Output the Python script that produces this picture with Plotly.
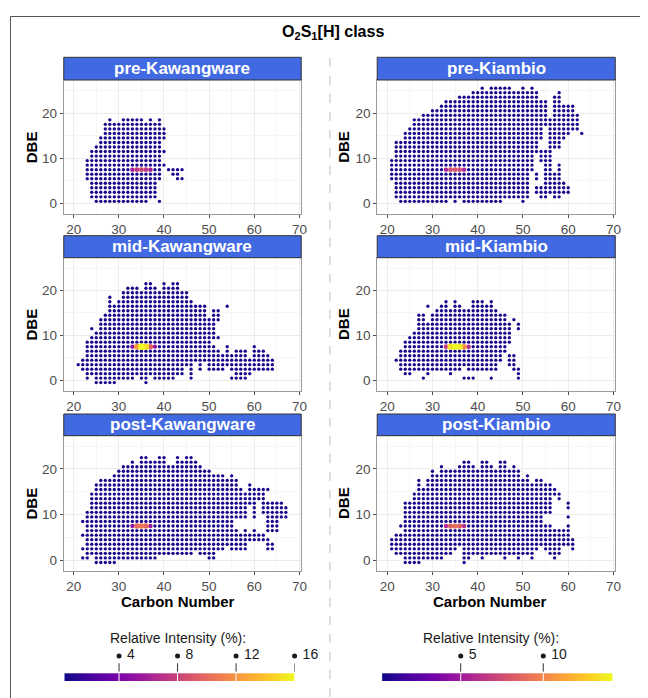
import numpy as np
import plotly.graph_objects as go

# page body has an 8px margin, so the figure is 8px smaller on each axis
PAGE_OFF = 8
FW, FH = 640, 690
FONT = "Liberation Sans, Arial, sans-serif"

# ---------------- data ----------------
panel_titles = ["pre-Kawangware", "pre-Kiambio", "mid-Kawangware",
                "mid-Kiambio", "post-Kawangware", "post-Kiambio"]

x_ticks = [20, 30, 40, 50, 60, 70]
y_ticks = [0, 10, 20]
left_bar_ticks = [4, 8, 12, 16]
right_bar_ticks = [5, 10]
left_limits = [0.27, 16.0]
right_limits = [0.24, 14.2]

# each entry: (carbon number, lowest DBE, highest DBE) of a run of points
pre_kaw_cols = [
    (23, 5.5, 9.5), (24, 1.5, 11.5), (25, 0.5, 12.5), (26, 0.5, 14.5),
    (27, 0.5, 17.5), (28, 0.5, 18.5), (29, 0.5, 17.5), (30, 0.5, 17.5),
    (31, 0.5, 18.5), (32, 0.5, 18.5), (33, 0.5, 18.5), (34, 0.5, 18.5),
    (35, 0.5, 18.5), (36, 0.5, 17.5), (37, 1.5, 18.5), (38, 1.5, 17.5),
    (39, 5.5, 18.5), (39, 0.5, 0.5), (40, 8.5, 8.5), (40, 11.5, 11.5),
    (40, 14.5, 16.5), (41, 7.5, 7.5), (42, 6.5, 7.5), (43, 5.5, 7.5),
    (44, 5.5, 5.5), (44, 7.5, 7.5),
]
pre_kia_cols = [
    (21, 5.5, 9.5), (22, 1.5, 13.5), (23, 0.5, 13.5), (24, 0.5, 15.5),
    (25, 0.5, 16.5), (26, 0.5, 18.5), (27, 0.5, 18.5), (28, 0.5, 19.5),
    (29, 0.5, 19.5), (30, 0.5, 20.5), (31, 0.5, 20.5), (32, 0.5, 21.5),
    (33, 0.5, 22.5), (34, 1.5, 22.5), (35, 0.5, 22.5), (36, 1.5, 23.5),
    (37, 0.5, 23.5), (38, 0.5, 23.5), (39, 0.5, 24.5), (40, 0.5, 24.5),
    (41, 0.5, 25.5), (42, 0.5, 24.5), (43, 0.5, 25.5), (44, 0.5, 25.5),
    (45, 0.5, 25.5), (46, 1.5, 25.5), (47, 1.5, 25.5), (48, 1.5, 24.5),
    (49, 1.5, 24.5), (50, 0.5, 25.5), (51, 1.5, 24.5), (52, 7.5, 25.5),
    (53, 11.5, 24.5), (53, 5.5, 6.5), (53, 2.5, 3.5),
    (54, 14.5, 22.5), (54, 9.5, 11.5), (54, 1.5, 3.5),
    (55, 17.5, 22.5), (55, 1.5, 11.5), (56, 2.5, 18.5),
    (57, 12.5, 23.5), (57, 1.5, 6.5), (58, 12.5, 24.5), (58, 1.5, 8.5),
    (59, 14.5, 21.5), (59, 2.5, 4.5), (60, 15.5, 21.5), (60, 2.5, 3.5),
    (61, 16.5, 21.5), (62, 16.5, 19.5), (63, 15.5, 15.5),
]
mid_kaw_cols = [
    (21, 3.5, 3.5), (22, 2.5, 4.5), (23, 0.5, 8.5), (24, 1.5, 9.5),
    (24, 11.5, 11.5), (25, -0.5, 10.5), (26, -0.5, 13.5), (27, -0.5, 14.5),
    (28, -0.5, 18.5), (29, -0.5, 16.5), (30, 0.5, 17.5), (31, 0.5, 19.5),
    (32, 0.5, 20.5), (33, 0.5, 20.5), (34, 1.5, 20.5), (35, 0.5, 19.5),
    (36, 0.5, 21.5), (36, -0.5, -0.5), (37, 1.5, 21.5), (38, 0.5, 20.5),
    (39, 0.5, 19.5), (40, 0.5, 21.5), (41, 0.5, 20.5), (42, 0.5, 21.5),
    (43, 1.5, 21.5), (44, 1.5, 19.5), (45, 3.5, 19.5), (46, 0.5, 17.5),
    (47, 4.5, 16.5), (48, 2.5, 16.5), (49, 4.5, 16.5), (50, 2.5, 13.5),
    (51, 9.5, 15.5), (51, 2.5, 7.5), (52, 13.5, 15.5), (52, 9.5, 9.5),
    (52, 2.5, 6.5), (53, 2.5, 5.5), (54, 16.5, 16.5), (54, 3.5, 7.5),
    (55, 0.5, 0.5), (55, 2.5, 5.5), (56, 0.5, 6.5), (57, 0.5, 6.5),
    (58, 0.5, 6.5), (59, 1.5, 4.5), (60, 2.5, 7.5), (61, 2.5, 6.5),
    (62, 2.5, 6.5), (63, 2.5, 5.5), (64, 2.5, 4.5),
]
mid_kia_cols = [
    (22, 4.5, 4.5), (23, 2.5, 6.5), (24, 1.5, 8.5), (25, 1.5, 9.5),
    (26, 2.5, 10.5), (27, 2.5, 14.5), (28, 2.5, 14.5), (28, 0.5, 0.5),
    (29, 1.5, 12.5), (29, 16.5, 16.5), (30, 2.5, 14.5), (31, 2.5, 15.5),
    (32, 2.5, 16.5), (33, 2.5, 17.5), (34, 1.5, 15.5), (35, 2.5, 17.5),
    (36, 2.5, 16.5), (37, 3.5, 15.5), (37, 0.5, 0.5), (38, 2.5, 15.5),
    (38, 0.5, 0.5), (39, 2.5, 17.5), (39, 0.5, 0.5), (40, 2.5, 17.5),
    (41, 2.5, 17.5), (42, 2.5, 16.5), (43, 2.5, 17.5), (43, 0.5, 0.5),
    (44, 2.5, 15.5), (45, 4.5, 14.5), (46, 6.5, 14.5), (47, 3.5, 5.5),
    (47, 8.5, 12.5), (48, 2.5, 5.5), (48, 13.5, 13.5), (49, 0.5, 2.5),
    (49, 11.5, 12.5),
]
post_kaw_cols = [
    (22, 8.5, 8.5), (22, 5.5, 5.5), (22, 2.5, 2.5), (22, 0.5, 0.5),
    (23, 0.5, 10.5), (24, 1.5, 14.5), (25, -0.5, 16.5), (26, -0.5, 17.5),
    (27, -0.5, 17.5), (28, -0.5, 17.5), (29, -0.5, 18.5), (30, 0.5, 19.5),
    (31, 0.5, 20.5), (32, 0.5, 20.5), (33, 0.5, 21.5), (34, 0.5, 20.5),
    (35, 0.5, 22.5), (36, 0.5, 22.5), (37, 0.5, 21.5), (38, 0.5, 21.5),
    (39, 1.5, 22.5), (40, 1.5, 22.5), (41, 1.5, 20.5), (42, 1.5, 20.5),
    (43, 1.5, 22.5), (44, 1.5, 21.5), (45, 1.5, 22.5), (46, 1.5, 22.5),
    (47, 2.5, 21.5), (48, 1.5, 20.5), (49, 1.5, 19.5), (50, 0.5, 19.5),
    (51, 0.5, 18.5), (52, 2.5, 18.5), (53, 2.5, 18.5), (54, 3.5, 17.5),
    (55, 2.5, 18.5), (56, 9.5, 17.5), (56, 2.5, 6.5), (57, 9.5, 15.5),
    (57, 2.5, 5.5), (58, 9.5, 14.5), (58, 2.5, 6.5), (59, 12.5, 16.5),
    (59, 4.5, 5.5), (60, 9.5, 15.5), (60, 4.5, 6.5), (61, 13.5, 15.5),
    (61, 4.5, 5.5), (62, 10.5, 15.5), (62, 4.5, 5.5), (63, 15.5, 15.5),
    (63, 6.5, 12.5), (63, 2.5, 4.5), (64, 6.5, 12.5), (64, 2.5, 3.5),
    (65, 6.5, 12.5), (66, 9.5, 12.5), (67, 9.5, 11.5),
]
post_kia_cols = [
    (21, 2.5, 4.5), (22, 1.5, 5.5), (23, 1.5, 5.5), (23, 7.5, 7.5),
    (24, -0.5, 12.5), (25, -0.5, 12.5), (26, -0.5, 14.5), (27, -0.5, 17.5),
    (28, 0.5, 15.5), (29, 0.5, 17.5), (30, 0.5, 19.5), (31, 0.5, 18.5),
    (32, 0.5, 20.5), (33, 1.5, 19.5), (34, 1.5, 19.5), (35, 2.5, 19.5),
    (36, 3.5, 20.5), (37, -0.5, 21.5), (38, 0.5, 21.5), (39, 1.5, 20.5),
    (40, 1.5, 19.5), (41, 0.5, 21.5), (42, 1.5, 21.5), (43, 1.5, 20.5),
    (44, 1.5, 19.5), (45, 1.5, 21.5), (46, 0.5, 21.5), (47, 1.5, 19.5),
    (48, 1.5, 20.5), (49, 0.5, 19.5), (50, 1.5, 17.5), (51, 1.5, 18.5),
    (52, 0.5, 16.5), (53, 2.5, 17.5), (54, 3.5, 17.5), (55, 10.5, 16.5),
    (55, 2.5, 7.5), (56, 10.5, 16.5), (56, 1.5, 7.5), (57, 14.5, 15.5),
    (57, 0.5, 6.5), (58, 13.5, 14.5), (58, 1.5, 6.5), (59, 3.5, 6.5),
    (60, 11.5, 12.5), (60, 9.5, 9.5), (60, 3.5, 7.5), (61, 2.5, 4.5),
]

# background relative intensity of the ordinary points (%)
base_intensity = [0.6, 0.55, 0.6, 0.55, 0.6, 0.55]

# the bright DBE = 7.5 row in each panel
highlight_dbe = 7.5
pre_kaw_hl_c = [33, 34, 35, 36, 37]
pre_kaw_hl_v = [6.0, 7.5, 8.0, 7.5, 6.0]
pre_kia_hl_c = [33, 34, 35, 36, 37]
pre_kia_hl_v = [5.5, 7.5, 8.0, 7.5, 5.5]
mid_kaw_hl_c = [33, 34, 35, 36, 37, 38]
mid_kaw_hl_v = [5.0, 12.0, 16.0, 15.0, 9.5, 5.0]
mid_kia_hl_c = [33, 34, 35, 36, 37, 38]
mid_kia_hl_v = [6.5, 13.5, 14.2, 14.0, 10.5, 6.0]
post_kaw_hl_c = [33, 34, 35, 36, 37]
post_kaw_hl_v = [5.0, 10.0, 10.5, 10.0, 5.5]
post_kia_hl_c = [33, 34, 35, 36, 37]
post_kia_hl_v = [6.0, 8.5, 9.0, 8.5, 6.0]

panel_cols = [pre_kaw_cols, pre_kia_cols, mid_kaw_cols, mid_kia_cols, post_kaw_cols, post_kia_cols]
panel_hl = [(pre_kaw_hl_c, pre_kaw_hl_v), (pre_kia_hl_c, pre_kia_hl_v),
            (mid_kaw_hl_c, mid_kaw_hl_v), (mid_kia_hl_c, mid_kia_hl_v),
            (post_kaw_hl_c, post_kaw_hl_v), (post_kia_hl_c, post_kia_hl_v)]

# ---------------- layout geometry (window pixels) ----------------
col_x = [(64.3, 304.0), (380.7, 621.0)]
row_y = [(80.0, 214.0), (257.7, 390.7), (435.7, 570.7)]
strip_y = [(57.3, 80.0), (235.7, 257.7), (414.0, 435.7)]
x_range = [17.8, 70.4]
y_range = [-2.3, 27.3]


def px(x):
    return (x - PAGE_OFF) / FW


def py(y):
    return 1 - (y - PAGE_OFF) / FH


def expand(cols, hl_c, hl_v, base):
    pts = {}
    for c, lo, hi in cols:
        for d in np.arange(lo, hi + 0.01, 1.0):
            pts[(c, round(float(d), 1))] = base
    for c, v in zip(hl_c, hl_v):
        pts[(c, highlight_dbe)] = v
    items = sorted(pts.items(), key=lambda kv: kv[1])
    xs = np.array([k[0] for k, _ in items])
    ys = np.array([k[1] for k, _ in items])
    vs = np.array([v for _, v in items])
    return xs, ys, vs


fig = go.Figure()
layout = {}
shapes = []
annotations = []

for k in range(6):
    r, c = divmod(k, 2)
    lims = left_limits if c == 0 else right_limits
    xs, ys, vs = expand(panel_cols[k], panel_hl[k][0], panel_hl[k][1], base_intensity[k])
    fig.add_trace(go.Scatter(
        x=xs, y=ys, mode="markers",
        marker=dict(color=vs, colorscale="Plasma", cmin=lims[0], cmax=lims[1],
                    size=3.2 + 0.22 * vs, line=dict(width=0), opacity=1),
        xaxis=f"x{k + 1}", yaxis=f"y{k + 1}", showlegend=False, hoverinfo="skip",
    ))
    xname = "xaxis" if k == 0 else f"xaxis{k + 1}"
    yname = "yaxis" if k == 0 else f"yaxis{k + 1}"
    x0, x1 = col_x[c]
    y0, y1 = row_y[r]
    axis_common = dict(
        showline=True, mirror=True, linecolor="#9a9a9a", linewidth=1,
        ticks="outside", ticklen=3, tickcolor="#4d4d4d", tickwidth=1,
        tickfont=dict(family=FONT, size=13.5, color="#4d4d4d"),
        showgrid=True, gridcolor="#ececec", gridwidth=0.6, zeroline=False,
        fixedrange=True,
    )
    layout[xname] = dict(axis_common, domain=[px(x0), px(x1)], range=x_range,
                         tickvals=x_ticks, anchor=f"y{k + 1}",
                         minor=dict(showgrid=True, gridcolor="#f6f6f6", gridwidth=0.5,
                                    dtick=5, tick0=15))
    layout[yname] = dict(axis_common, domain=[py(y1), py(y0)], range=y_range,
                         tickvals=y_ticks, anchor=f"x{k + 1}",
                         minor=dict(showgrid=True, gridcolor="#f6f6f6", gridwidth=0.5,
                                    dtick=5, tick0=5))

    # strip
    sy0, sy1 = strip_y[r]
    shapes.append(dict(type="rect", xref="paper", yref="paper",
                       x0=px(x0), x1=px(x1), y0=py(sy1), y1=py(sy0),
                       fillcolor="#4169E1", line=dict(color="#333333", width=1), layer="above"))
    annotations.append(dict(text=f"<b>{panel_titles[k]}</b>", xref="paper", yref="paper",
                            x=px((x0 + x1) / 2), y=py((sy0 + sy1) / 2),
                            showarrow=False, xanchor="center", yanchor="middle",
                            font=dict(family=FONT, size=17, color="white")))
    # DBE title
    dbe_x = 31.5 if c == 0 else 346.0
    annotations.append(dict(text="<b>DBE</b>", xref="paper", yref="paper",
                            x=px(dbe_x), y=py((y0 + y1) / 2), textangle=-90,
                            showarrow=False, xanchor="center", yanchor="middle",
                            font=dict(family=FONT, size=15, color="black")))
    if r == 2:
        cx = 180.0 if c == 0 else 495.0
        annotations.append(dict(text="<b>Carbon Number</b>", xref="paper", yref="paper",
                                x=px(cx), y=py(601.7), showarrow=False,
                                xanchor="center", yanchor="middle",
                                font=dict(family=FONT, size=15, color="black")))

# ---------------- colour bars ----------------
bar_geom = [(65.0, 297.3), (385.7, 618.3)]
bar_bottom, bar_px = 681.0, 7.7
bar_title_x = [180.0, 496.0]
for j, (lims, ticks) in enumerate([(left_limits, left_bar_ticks), (right_limits, right_bar_ticks)]):
    ax = 7 + j
    bx0, bx1 = bar_geom[j]
    grad = np.linspace(lims[0], lims[1], 300)
    fig.add_trace(go.Heatmap(x=grad, y0=0.5, dy=1, z=[grad], colorscale="Plasma",
                             zmin=lims[0], zmax=lims[1], showscale=False,
                             xaxis=f"x{ax}", yaxis=f"y{ax}", hoverinfo="skip"))
    wx, wy, dx, dy = [], [], [], []
    for t in ticks:
        wx += [t, t, None]
        wy += [0, 1, None]
        dx += [t, t, None]
        dy += [1.22, 2.3, None]
    fig.add_trace(go.Scatter(x=wx, y=wy, mode="lines", line=dict(color="white", width=1),
                             xaxis=f"x{ax}", yaxis=f"y{ax}", showlegend=False, hoverinfo="skip"))
    fig.add_trace(go.Scatter(x=dx, y=dy, mode="lines", line=dict(color="#333333", width=1),
                             xaxis=f"x{ax}", yaxis=f"y{ax}", showlegend=False, hoverinfo="skip"))
    fig.add_trace(go.Scatter(x=ticks, y=[3.25] * len(ticks), mode="markers+text",
                             text=[f" {t}" for t in ticks], textposition="middle right",
                             textfont=dict(family=FONT, size=14, color="#1a1a1a"),
                             marker=dict(size=5, color="#1a1a1a"), cliponaxis=False,
                             xaxis=f"x{ax}", yaxis=f"y{ax}", showlegend=False, hoverinfo="skip"))
    layout[f"xaxis{ax}"] = dict(domain=[px(bx0), px(bx1)], range=lims, visible=False,
                                anchor=f"y{ax}", fixedrange=True)
    layout[f"yaxis{ax}"] = dict(domain=[py(bar_bottom), py(bar_bottom - 4 * bar_px)],
                                range=[0, 4], visible=False, anchor=f"x{ax}", fixedrange=True)
    annotations.append(dict(text="Relative Intensity (%):", xref="paper", yref="paper",
                            x=px(bar_title_x[j]), y=py(638.0), showarrow=False,
                            xanchor="center", yanchor="middle",
                            font=dict(family=FONT, size=14, color="#1a1a1a")))

# ---------------- title, divider and frame ----------------
annotations.append(dict(text="<b>O<sub>2</sub>S<sub>1</sub>[H] class</b>", xref="paper", yref="paper",
                        x=px(336.0), y=py(32.0), showarrow=False, xanchor="center", yanchor="middle",
                        font=dict(family=FONT, size=16, color="black")))
shapes.append(dict(type="line", xref="paper", yref="paper", x0=px(333), x1=px(333),
                   y0=py(58), y1=py(700), line=dict(color="#bdbdbd", width=1, dash="dash")))
shapes.append(dict(type="line", xref="paper", yref="paper", x0=px(10.5), x1=px(10.5),
                   y0=py(16.5), y1=py(702), line=dict(color="#555555", width=1)))
shapes.append(dict(type="line", xref="paper", yref="paper", x0=px(10.5), x1=px(652),
                   y0=py(16.5), y1=py(16.5), line=dict(color="#555555", width=1)))

fig.update_layout(
    width=FW, height=FH, margin=dict(l=0, r=0, t=0, b=0),
    paper_bgcolor="white", plot_bgcolor="white",
    font=dict(family=FONT), shapes=shapes, annotations=annotations,
    showlegend=False, **layout,
)

fig.write_html("out.html", config={"displayModeBar": False})
